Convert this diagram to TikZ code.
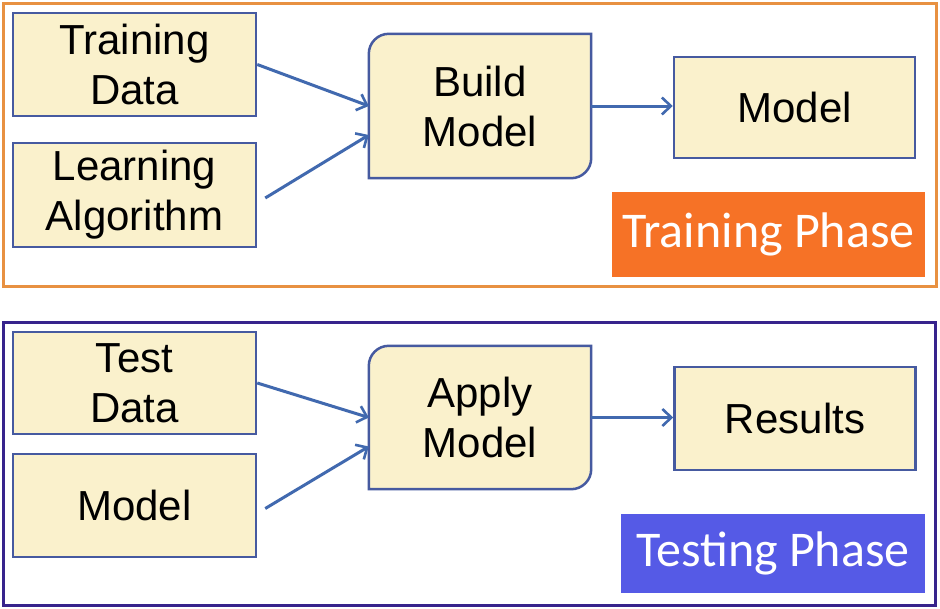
\documentclass[tikz,border=0pt]{standalone}
\usepackage{fontspec}
\setmainfont{Liberation Sans}
\newfontfamily\labelfont{Carlito}
\usetikzlibrary{arrows.meta,calc}
\definecolor{cream}{RGB}{250,241,204}
\definecolor{boxblue}{RGB}{70,90,160}
\definecolor{arrblue}{RGB}{65,105,175}
\definecolor{trainframe}{RGB}{232,145,65}
\definecolor{trainfill}{RGB}{246,114,38}
\definecolor{testframe}{RGB}{55,35,140}
\definecolor{testfill}{RGB}{85,90,230}
\begin{document}
\begin{tikzpicture}[x=1pt,y=-1pt,
  box/.style={draw=boxblue, fill=cream, line width=2.5pt, inner sep=0pt, align=center,
    font=\fontsize{42}{50}\selectfont},
  procbox/.style={draw=none, inner sep=0pt, align=center, font=\fontsize{42}{50}\selectfont},
  procshape/.style={draw=boxblue, fill=cream, line width=2.5pt},
  arr/.style={draw=arrblue, line width=3pt, -{Straight Barb[length=9pt,width=17pt,line width=2.6pt]}},
  phaselabel/.style={text=white, inner sep=0pt, font=\labelfont\fontsize{50}{56}\selectfont},
  frame/.style={line width=3pt}]
\useasboundingbox (0,0) rectangle (940,608);
\fill[white] (0,0) rectangle (940,608);
% frames
\draw[frame, draw=trainframe] (3,3) rectangle (936,286);
\draw[frame, draw=testframe] (3,322) rectangle (935,605);

% ---------- training phase ----------
\node[box, minimum width=243pt, minimum height=103pt] (td) at (134.5,64.5) {Training\\Data};
\node[box, minimum width=243pt, minimum height=104pt] (la) at (134.5,195) {Learning\\Algorithm};
\node[procbox, minimum width=222pt, minimum height=144pt] (build) at (480,106) {};
\draw[procshape] (build.south west) [rounded corners=20pt] -- (build.north west) [sharp corners] -- (build.north east) [rounded corners=20pt] -- (build.south east) [sharp corners] -- cycle;
\node[procbox] at (build.center) {Build\\Model};
\node[box, minimum width=241pt, minimum height=101pt] (model) at (794.5,107.5) {Model};
\node[phaselabel, fill=trainfill, minimum width=313pt, minimum height=85pt] (tlabel) at (768.5,234.5) {Training Phase};

\draw[arr] (td.east) -- (build.west);
\draw[arr] ($(la.east)+(8,3)$) -- ($(build.west)+(0,29)$);
\draw[arr] (build.east) -- (build.east -| model.west);

% ---------- testing phase ----------
\node[box, minimum width=243pt, minimum height=102pt] (test) at (134.5,383) {Test\\Data};
\node[box, minimum width=243pt, minimum height=103pt] (tmodel) at (134.5,505.5) {Model};
\node[procbox, minimum width=222pt, minimum height=143pt] (apply) at (480,417.5) {};
\draw[procshape] (apply.south west) [rounded corners=20pt] -- (apply.north west) [sharp corners] -- (apply.north east) [rounded corners=20pt] -- (apply.south east) [sharp corners] -- cycle;
\node[procbox] at (apply.center) {Apply\\Model};
\node[box, minimum width=241pt, minimum height=103pt] (results) at (795,418.5) {Results};
\node[phaselabel, fill=testfill, minimum width=304pt, minimum height=79pt] (slabel) at (773,553.5) {Testing Phase};

\draw[arr] (test.east) -- (apply.west);
\draw[arr] ($(tmodel.east)+(8,3)$) -- ($(apply.west)+(0,29)$);
\draw[arr] (apply.east) -- (apply.east -| results.west);
\end{tikzpicture}
\end{document}
